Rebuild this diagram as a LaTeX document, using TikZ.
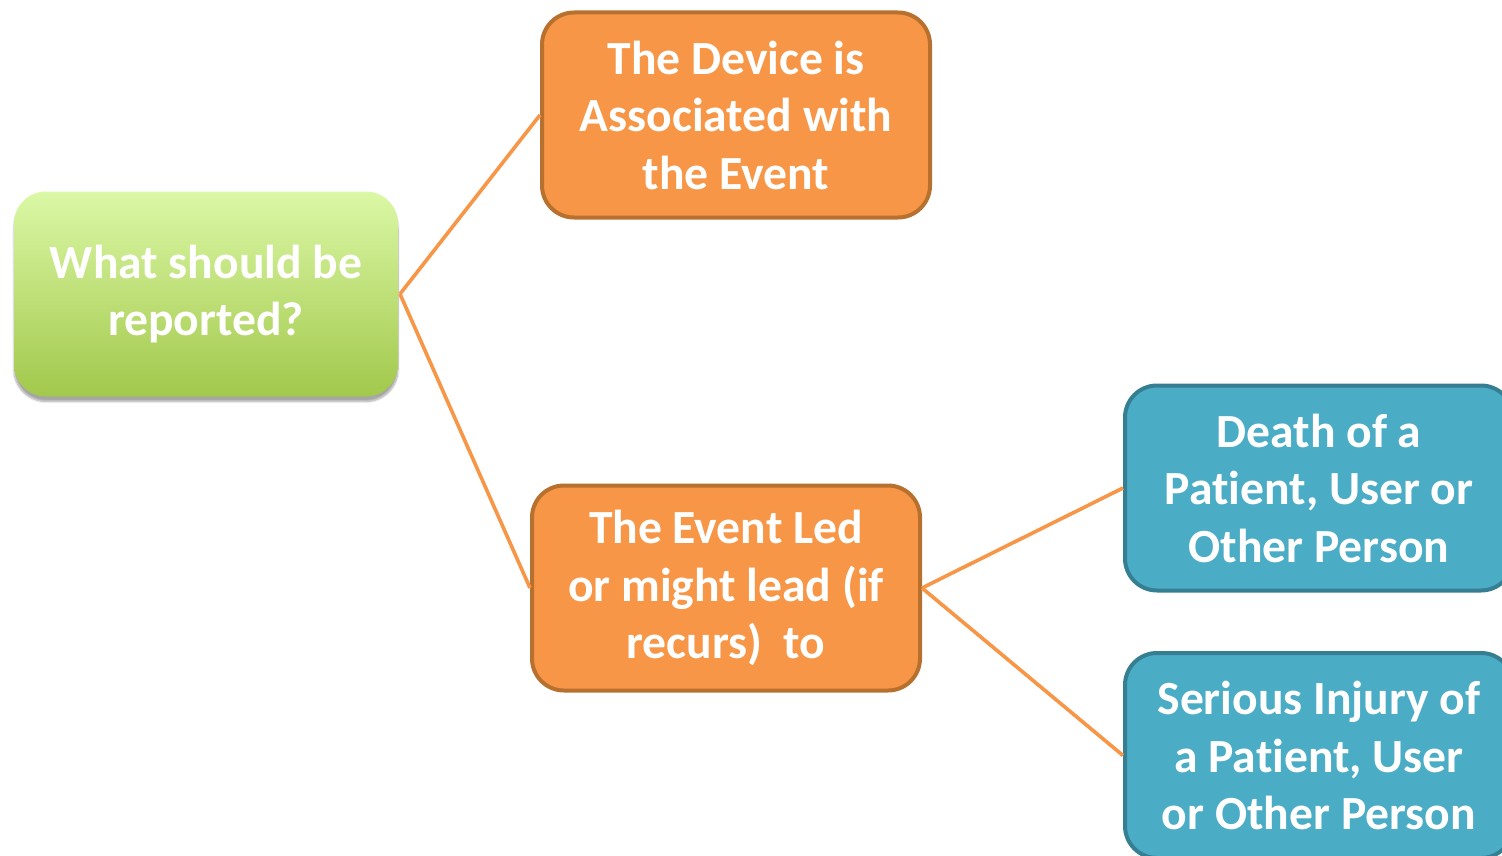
\documentclass[tikz,border=0pt]{standalone}
\usepackage{fontspec}
\setmainfont{Carlito}[Ligatures={NoCommon}]
\usetikzlibrary{shadows.blur}
% a zero kern keeps "t" and "i" as separate glyphs
\newcommand\splitglyphs{\kern0pt\relax}
\definecolor{orfill}{HTML}{F79646}
\definecolor{ordraw}{HTML}{B8702F}
\definecolor{blfill}{HTML}{4BACC6}
\definecolor{bldraw}{HTML}{367F92}
\definecolor{grtop}{HTML}{DBF8A6}
\definecolor{grbot}{HTML}{A2C84C}
\begin{document}
\begin{tikzpicture}[x=1pt,y=-1pt,
  box/.style={rectangle, rounded corners=32pt, align=center, text=white,
    font=\bfseries\fontsize{47.6}{57.5}\selectfont, line width=4pt,
    minimum width=388pt, minimum height=205pt, inner sep=0pt},
  orbox/.style={box, fill=orfill, draw=ordraw},
  blbox/.style={box, fill=blfill, draw=bldraw},
  grbox/.style={box, top color=grtop, bottom color=grbot, draw=none,
    minimum width=384pt, minimum height=205pt,
    blur shadow={shadow xshift=0pt, shadow yshift=-5pt, shadow blur steps=8, shadow opacity=35}},
  link/.style={draw=orfill, line width=3.6pt}]
\useasboundingbox (0,0) rectangle (1502,856);

\node[grbox] (q) at (206,294) {What should be\\reported?};
\node[orbox] (dev) at (736,115) {The Device is\\Associated with\\the Event};
\node[orbox] (evt) at (726,588) {The Event Led\\or might lead (if\\recurs)\ \ to};
\node[blbox] (death) at (1319,488) {Death of a\\Pat\splitglyphs ient, User or\\Other Person};
\node[blbox] (inj) at (1319,755.5) {Serious Injury of\\a Pat\splitglyphs ient, User\\or Other Person};

\draw[link] (q.east) -- (dev.west);
\draw[link] (q.east) -- (evt.west);
\draw[link] (evt.east) -- (death.west);
\draw[link] (evt.east) -- (inj.west);
\end{tikzpicture}
\end{document}
